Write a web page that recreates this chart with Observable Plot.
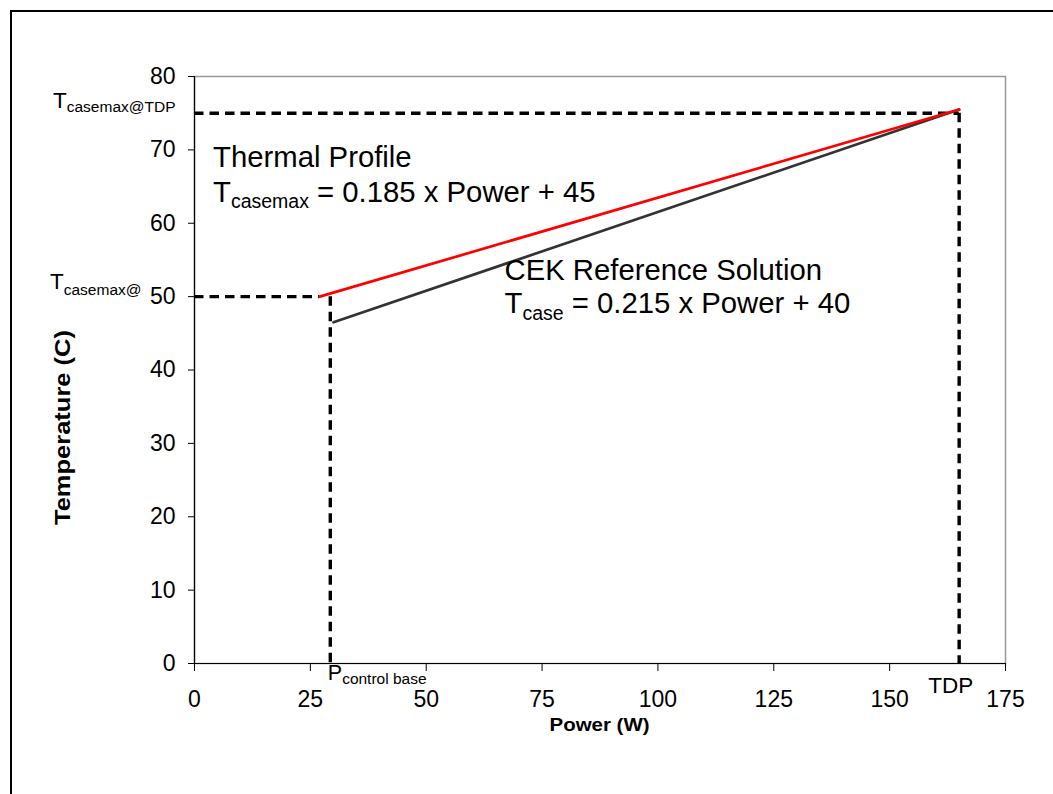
<!DOCTYPE html>
<html><head><meta charset="utf-8">
<script src="https://cdn.jsdelivr.net/npm/d3@7"></script>
<script src="https://cdn.jsdelivr.net/npm/@observablehq/plot@0.6"></script>
<style>
body{margin:0;background:#fff;}
#wrap{position:relative;width:1053px;height:794px;overflow:hidden;background:#fff;}
#border{position:absolute;left:10px;top:10px;width:1100px;height:900px;border:2px solid #000;box-sizing:border-box;pointer-events:none;}
svg{font-family:"Liberation Sans",Arial,sans-serif;}
</style></head>
<body><div id="wrap"><div id="chart"></div><div id="border"></div></div>
<script>
// ---- data ----
const xTicks = [0, 25, 50, 75, 100, 125, 150, 175];
const yTicks = [0, 10, 20, 30, 40, 50, 60, 70, 80];
const profilePower = [27, 165];      // Thermal Profile line (red)
const profileTemp = [50, 75.5];
const cekPower = [30, 165];          // CEK Reference Solution line (dark)
const cekTemp = [46.5, 75.5];
const pControlBase = 29.3;           // P control base (W)
const tdp = 165;                     // TDP (W)
const tCaseMaxAtPcb = 50;            // Tcasemax @ P control base
const tCaseMaxAtTdp = 75;            // Tcasemax @ TDP
const xLabel = "Power (W)";
const yLabel = "Temperature (C)";

const profile = profilePower.map((p, i) => ({p, t: profileTemp[i]}));
const cek = cekPower.map((p, i) => ({p, t: cekTemp[i]}));

const dash = {stroke: "#000", strokeWidth: 3.4, strokeDasharray: "9.5,6"};

const chart = Plot.plot({
  width: 1053,
  height: 794,
  marginLeft: 194,
  marginRight: 48,
  marginTop: 76,
  marginBottom: 131,
  style: {fontFamily: "Liberation Sans, Arial, sans-serif", background: "transparent", overflow: "visible"},
  x: {domain: [0, 175], ticks: xTicks, label: null},
  y: {domain: [0, 80], ticks: yTicks, label: null},
  marks: [
    Plot.frame({stroke: "#999", strokeWidth: 1.5}),
    Plot.ruleY([tCaseMaxAtTdp], {x1: 0, x2: tdp, ...dash}),
    Plot.ruleY([tCaseMaxAtPcb], {x1: 0, x2: profilePower[0], ...dash}),
    Plot.ruleX([pControlBase], {y1: tCaseMaxAtPcb, y2: 0, ...dash}),
    Plot.ruleX([tdp], {y1: tCaseMaxAtTdp, y2: 0, ...dash}),
    Plot.line(cek, {x: "p", y: "t", stroke: "#333", strokeWidth: 2.7}),
    Plot.line(profile, {x: "p", y: "t", stroke: "#f00", strokeWidth: 2.7}),
    Plot.ruleX([0], {stroke: "#000", strokeWidth: 1.2}),
    Plot.ruleY([0], {stroke: "#000", strokeWidth: 1.2}),
    Plot.axisX({ticks: xTicks, tickSize: 8, tickPadding: 19, fontSize: 23, label: null, stroke: "#000", color: "#000"}),
    Plot.axisY({ticks: yTicks, tickSize: 6, tickPadding: 13, fontSize: 23, label: null, stroke: "#000", color: "#000"})
  ]
});
document.getElementById("chart").appendChild(chart);

const sx = chart.scale("x"), sy = chart.scale("y");
const svg = d3.select(chart);
const g = svg.append("g").attr("fill", "#000").attr("text-anchor", "start")
  .attr("font-family", "Liberation Sans, Arial, sans-serif");

function subText(px, py, main, sub, rest, size, subSize, shift) {
  const t = g.append("text").attr("x", px).attr("y", py).attr("font-size", size);
  t.append("tspan").text(main);
  t.append("tspan").attr("font-size", subSize).attr("dy", shift).text(sub);
  if (rest) t.append("tspan").attr("dy", -shift).text(rest);
  return t;
}

// Thermal profile annotation
g.append("text").attr("x", sx.apply(4.1)).attr("y", sy.apply(67.6)).attr("font-size", 29.3).text("Thermal Profile");
subText(sx.apply(4.1), sy.apply(62.8), "T", "casemax", " = 0.185 x Power + 45", 29.3, 19.5, 6);

// CEK annotation
g.append("text").attr("x", sx.apply(67)).attr("y", sy.apply(52.2)).attr("font-size", 29.3).text("CEK Reference Solution");
subText(sx.apply(67), sy.apply(47.7), "T", "case", " = 0.215 x Power + 40", 29.3, 19.5, 7);

// Left labels
subText(sx.apply(0) - 141, sy.apply(tCaseMaxAtTdp) - 5, "T", "casemax@TDP", null, 22.5, 15.5, 4);
subText(sx.apply(0) - 144, sy.apply(tCaseMaxAtPcb) - 7, "T", "casemax@", null, 22.5, 15.5, 6);

// Bottom labels
subText(sx.apply(pControlBase) - 2, sy.apply(0) + 17, "P", "control base", null, 21.5, 15.5, 4);
g.append("text").attr("x", sx.apply(tdp) - 8).attr("y", sy.apply(0) + 30).attr("font-size", 22.5).attr("text-anchor", "middle").text("TDP");

// Axis titles
g.append("text").attr("x", (sx.apply(0) + sx.apply(175)) / 2).attr("y", sy.apply(0) + 68)
  .attr("font-size", 19).attr("font-weight", "bold").attr("text-anchor", "middle")
  .attr("textLength", 100).attr("lengthAdjust", "spacingAndGlyphs").text(xLabel);
g.append("text").attr("transform", `translate(70,${(sy.apply(0) + sy.apply(80)) / 2 + 58}) rotate(-90)`)
  .attr("font-size", 22).attr("font-weight", "bold").attr("text-anchor", "middle")
  .attr("textLength", 195).attr("lengthAdjust", "spacingAndGlyphs").text(yLabel);
</script>
</body></html>
